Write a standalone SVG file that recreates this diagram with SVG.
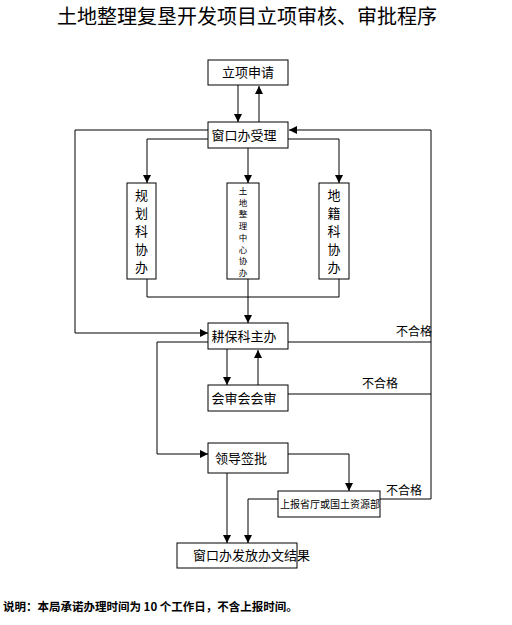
<svg xmlns="http://www.w3.org/2000/svg" width="512" height="625" viewBox="0 0 512 625">
<style>
text{font-family:"Noto Sans CJK SC","Noto Sans CJK JP",sans-serif;fill:#000}
.box{fill:#fff;stroke:#000;stroke-width:1}
.c{fill:none;stroke:#000;stroke-width:1}
.t{font-size:13px}
.lbl{font-size:12px}
</style>
<defs>
<marker id="a" viewBox="0 0 8 8" markerWidth="8" markerHeight="8" refX="8" refY="4" orient="auto" markerUnits="userSpaceOnUse"><path d="M0,0 L8,4 L0,8 z" fill="#000"/></marker>
</defs>
<rect width="512" height="625" fill="#fff"/>
<text x="247" y="24" font-size="20" text-anchor="middle">土地整理复垦开发项目立项审核、审批程序</text>
<g id="connectors">
<path class="c" d="M238,85 V122" marker-end="url(#a)"/>
<path class="c" d="M259,122 V86" marker-end="url(#a)"/>
<path class="c" d="M208,130 H75 V333 H208" marker-end="url(#a)"/>
<path class="c" d="M380,499 H431 V130 H289" marker-end="url(#a)"/>
<path class="c" d="M288,342 H431"/>
<path class="c" d="M288,394 H431"/>
<path class="c" d="M147,139 H339"/>
<path class="c" d="M248,148 V183" marker-end="url(#a)"/>
<path class="c" d="M147,139 V183" marker-end="url(#a)"/>
<path class="c" d="M339,139 V183" marker-end="url(#a)"/>
<path class="c" d="M147,279 V297 H339 V279"/>
<path class="c" d="M248,279 V323" marker-end="url(#a)"/>
<path class="c" d="M227,349 V385" marker-end="url(#a)"/>
<path class="c" d="M258,385 V350" marker-end="url(#a)"/>
<path class="c" d="M208,342 H157 V454 H208" marker-end="url(#a)"/>
<path class="c" d="M288,454 H349 V491" marker-end="url(#a)"/>
<path class="c" d="M227,473 V543" marker-end="url(#a)"/>
<path class="c" d="M278,499 H248 V543" marker-end="url(#a)"/>
<text class="lbl" x="396" y="336">不合格</text>
<text class="lbl" x="362" y="388">不合格</text>
<text class="lbl" x="386" y="495">不合格</text>
</g>
<g id="n1"><rect class="box" x="208" y="60" width="80" height="25"/><text class="t" x="248" y="77" text-anchor="middle">立项申请</text></g>
<g id="n2"><rect class="box" x="208" y="122" width="80" height="26"/><text class="t" x="244" y="140" text-anchor="middle">窗口办受理</text></g>
<g id="n3"><rect class="box" x="127" y="183" width="29" height="96"/>
<text class="t" text-anchor="middle" x="141.5"><tspan x="141.5" y="200">规</tspan><tspan x="141.5" y="218">划</tspan><tspan x="141.5" y="236">科</tspan><tspan x="141.5" y="254">协</tspan><tspan x="141.5" y="272">办</tspan></text></g>
<g id="n4"><rect class="box" x="227" y="183" width="32" height="96"/>
<text font-size="8.5" text-anchor="middle" x="243"><tspan x="243" y="194">土</tspan><tspan x="243" y="205.7">地</tspan><tspan x="243" y="217.4">整</tspan><tspan x="243" y="229.1">理</tspan><tspan x="243" y="240.8">中</tspan><tspan x="243" y="252.5">心</tspan><tspan x="243" y="264.2">协</tspan><tspan x="243" y="275.9">办</tspan></text></g>
<g id="n5"><rect class="box" x="319" y="183" width="30" height="96"/>
<text class="t" text-anchor="middle" x="334"><tspan x="334" y="200">地</tspan><tspan x="334" y="218">籍</tspan><tspan x="334" y="236">科</tspan><tspan x="334" y="254">协</tspan><tspan x="334" y="272">办</tspan></text></g>
<g id="n6"><rect class="box" x="208" y="323" width="80" height="26"/><text class="t" x="244" y="341" text-anchor="middle">耕保科主办</text></g>
<g id="n7"><rect class="box" x="208" y="385" width="80" height="26"/><text class="t" x="244" y="403" text-anchor="middle">会审会会审</text></g>
<g id="n8"><rect class="box" x="208" y="443" width="80" height="30"/><text class="t" x="215" y="463">领导签批</text></g>
<g id="n9"><rect class="box" x="278" y="491" width="102" height="26"/><text font-size="10" x="280" y="508">上报省厅或国土资源部</text></g>
<g id="n10"><rect class="box" x="177" y="543" width="120" height="25"/><text class="t" x="193" y="560">窗口办发放办文结果</text></g>
<text x="3" y="611" font-size="11.5" font-weight="bold">说明：本局承诺办理时间为 10 个工作日，不含上报时间。</text>
</svg>
